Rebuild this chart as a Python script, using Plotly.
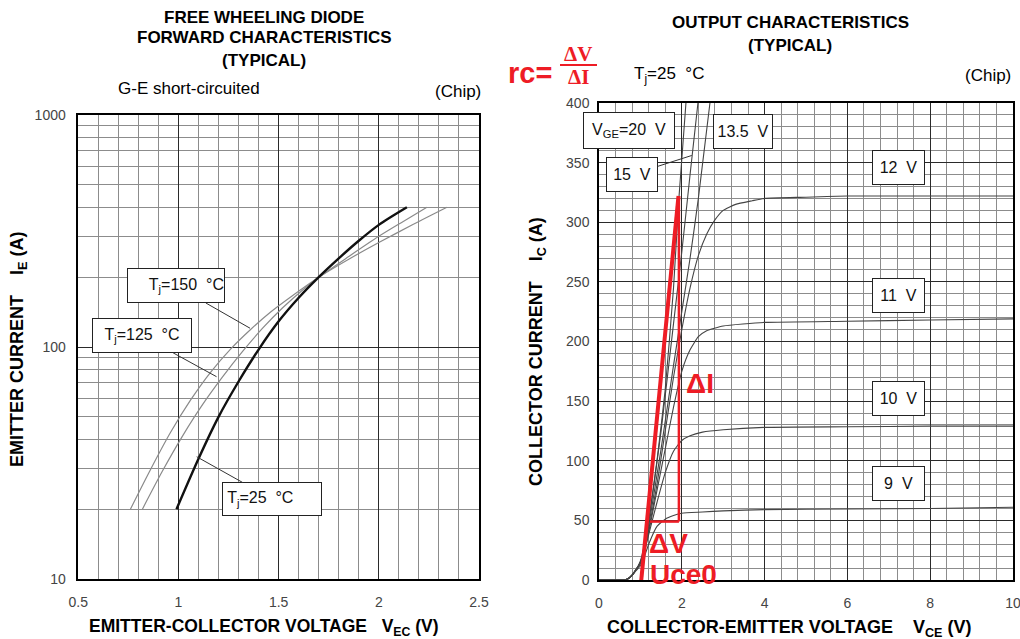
import plotly.graph_objects as go

W, H = 1020, 639

# ---------------- Left chart: FWD forward characteristics ----------------
vec_25 = [0.99, 1.10, 1.20, 1.30, 1.40, 1.50, 1.60, 1.70, 1.80, 1.90, 2.00, 2.14]
ie_25 = [20, 33, 50, 71, 97.5, 129, 163, 200, 241, 287, 336, 400]
vec_125 = [0.82, 0.92, 1.02, 1.12, 1.22, 1.32, 1.42, 1.52, 1.62, 1.70, 1.85, 2.00, 2.12, 2.24]
ie_125 = [20, 29.2, 41.3, 56.4, 74.3, 95.7, 120.5, 147.6, 176.2, 199.6, 245.5, 300, 347, 400]
vec_150 = [0.76, 0.86, 0.96, 1.06, 1.16, 1.26, 1.36, 1.46, 1.56, 1.70, 1.85, 2.00, 2.17, 2.34]
ie_150 = [20, 29.6, 42.8, 59, 77.8, 98, 119, 141.6, 164.4, 200, 239, 282, 337, 400]

left_xticks = [0.5, 1, 1.5, 2, 2.5]
left_xticklabels = ["0.5", "1", "1.5", "2", "2.5"]
left_yticks = [10, 100, 1000]
left_yticklabels = ["10", "100", "1000"]
left_yminor = [20, 30, 40, 50, 60, 70, 80, 90, 200, 300, 400, 500, 600, 700, 800, 900]

# ---------------- Right chart: output characteristics ----------------
vce_20 = [0, 0.6, 0.7, 0.8, 0.9, 1.0, 1.1, 1.2, 1.4, 1.6, 1.8, 1.93, 2.10]
ic_20 = [0, 0, 1, 4, 9, 16, 30, 50, 100, 160, 245, 320, 400]
vce_15 = [0, 0.6, 0.7, 0.8, 0.9, 1.0, 1.1, 1.2, 1.5, 1.8, 2.0, 2.2, 2.39]
ic_15 = [0, 0, 1, 4, 9, 15, 28, 48, 125, 215, 275, 340, 400]
vce_135 = [0, 0.6, 0.7, 0.8, 0.9, 1.0, 1.1, 1.2, 1.5, 1.8, 2.0, 2.2, 2.4, 2.68]
ic_135 = [0, 0, 1, 4, 9, 15, 27, 45, 110, 180, 225, 270, 320, 400]
vce_12 = [0, 0.6, 0.7, 0.8, 0.9, 1.0, 1.1, 1.2, 1.4, 1.6, 1.8, 2.0, 2.2, 2.4, 2.6, 2.8, 3.0, 3.3, 3.7, 4, 5, 6, 8, 10]
ic_12 = [0, 0, 1, 4, 9, 14, 26, 42, 80, 125, 170, 210, 245, 272, 290, 302, 310, 315, 318, 320, 321, 322, 322, 322]
vce_11 = [0, 0.6, 0.7, 0.8, 0.9, 1.0, 1.1, 1.2, 1.4, 1.6, 1.8, 2.0, 2.2, 2.4, 2.6, 3.0, 4, 6, 8, 10]
ic_11 = [0, 0, 1, 4, 9, 14, 25, 40, 75, 110, 145, 175, 193, 204, 209, 213, 216, 217, 218, 219]
vce_10 = [0, 0.6, 0.7, 0.8, 0.9, 1.0, 1.1, 1.2, 1.4, 1.6, 1.8, 2.0, 2.2, 2.5, 3, 4, 6, 8, 10]
ic_10 = [0, 0, 1, 4, 9, 14, 24, 38, 65, 90, 108, 117, 121, 124, 126, 128, 128.5, 129, 129]
vce_9 = [0, 0.6, 0.7, 0.8, 0.9, 1.0, 1.1, 1.2, 1.4, 1.6, 1.8, 2.0, 2.5, 3, 4, 6, 8, 10]
ic_9 = [0, 0, 1, 4, 8, 12, 20, 30, 45, 51, 54, 56, 57, 58, 59, 59.5, 60, 61]

right_xticks = [0, 2, 4, 6, 8, 10]
right_yticks = [0, 50, 100, 150, 200, 250, 300, 350, 400]

# red annotation construction (rc = dV/dI)
rc_tangent_v = [1.01, 1.92]
rc_tangent_i = [-4, 322]
delta_i_v = [1.93, 1.93]
delta_i_i = [49, 322]
delta_v_v = [1.23, 1.93]
delta_v_i = [49, 49]

RED = "#ee1c25"
FONT = "Liberation Sans, Arial, sans-serif"
SERIF = "Liberation Serif, Times New Roman, serif"


def px(x):
    return x / W


def py(y):
    return 1 - y / H


fig = go.Figure()

# left traces
fig.add_trace(go.Scatter(x=vec_150, y=ie_150, mode="lines", xaxis="x", yaxis="y",
                         line=dict(color="#8a8a8a", width=1.2, shape="spline", smoothing=0.8),
                         showlegend=False))
fig.add_trace(go.Scatter(x=vec_125, y=ie_125, mode="lines", xaxis="x", yaxis="y",
                         line=dict(color="#8a8a8a", width=1.2, shape="spline", smoothing=0.8),
                         showlegend=False))
fig.add_trace(go.Scatter(x=vec_25, y=ie_25, mode="lines", xaxis="x", yaxis="y",
                         line=dict(color="#111111", width=2.4, shape="spline", smoothing=0.8),
                         showlegend=False))

# right traces
for vx, iy in [(vce_9, ic_9), (vce_10, ic_10), (vce_11, ic_11), (vce_12, ic_12),
               (vce_135, ic_135), (vce_15, ic_15), (vce_20, ic_20)]:
    fig.add_trace(go.Scatter(x=vx, y=iy, mode="lines", xaxis="x2", yaxis="y2",
                             line=dict(color="#444444", width=1.1, shape="spline", smoothing=0.5),
                             showlegend=False))

fig.add_trace(go.Scatter(x=rc_tangent_v, y=rc_tangent_i, mode="lines", xaxis="x2", yaxis="y2",
                         line=dict(color=RED, width=4), showlegend=False))
fig.add_trace(go.Scatter(x=delta_i_v, y=delta_i_i, mode="lines", xaxis="x2", yaxis="y2",
                         line=dict(color=RED, width=2.5), showlegend=False))
fig.add_trace(go.Scatter(x=delta_v_v, y=delta_v_i, mode="lines", xaxis="x2", yaxis="y2",
                         line=dict(color=RED, width=2.5), showlegend=False))

minor_grid = "#8c8c8c"
major_grid = "#2a2a2a"
TICKFONT = dict(size=14, color="#444", family=FONT)

fig.update_layout(
    width=W, height=H, autosize=False,
    margin=dict(l=0, r=0, t=0, b=0, pad=0),
    paper_bgcolor="white", plot_bgcolor="white",
    font=dict(family=FONT, color="#000"),
    xaxis=dict(domain=[px(78.3), px(479)], range=[0.5, 2.5], automargin=False,
               tickvals=left_xticks, ticktext=left_xticklabels, ticklabeloverflow="allow",
               showgrid=True, gridcolor=major_grid, gridwidth=1,
               minor=dict(dtick=0.1, tick0=0.5, showgrid=True, gridcolor=minor_grid, gridwidth=1),
               showline=True, linecolor="#000", linewidth=1.5, mirror=True,
               ticks="outside", ticklen=9, tickcolor="rgba(0,0,0,0)",
               tickfont=TICKFONT, zeroline=False, fixedrange=True),
    yaxis=dict(domain=[py(579), py(115)], type="log", range=[1, 3], automargin=False,
               tickvals=left_yticks, ticktext=left_yticklabels, ticklabeloverflow="allow",
               showgrid=True, gridcolor=major_grid, gridwidth=1,
               minor=dict(tickvals=left_yminor, showgrid=True, gridcolor=minor_grid, gridwidth=1),
               showline=True, linecolor="#000", linewidth=1.5, mirror=True,
               ticks="outside", ticklen=8, tickcolor="rgba(0,0,0,0)",
               tickfont=TICKFONT, zeroline=False, fixedrange=True),
    xaxis2=dict(domain=[px(599), px(1013)], range=[0, 10], anchor="y2", automargin=False,
                tickvals=right_xticks, ticklabeloverflow="allow",
                showgrid=True, gridcolor=major_grid, gridwidth=1,
                minor=dict(dtick=0.4, tick0=0, showgrid=True, gridcolor=minor_grid, gridwidth=1),
                showline=True, linecolor="#000", linewidth=1.5, mirror=True,
                ticks="outside", ticklen=9, tickcolor="rgba(0,0,0,0)",
                tickfont=TICKFONT, zeroline=False, fixedrange=True),
    yaxis2=dict(domain=[py(580), py(103)], range=[0, 400], anchor="x2", automargin=False,
                tickvals=right_yticks, ticklabeloverflow="allow",
                showgrid=True, gridcolor=major_grid, gridwidth=1,
                minor=dict(dtick=10, tick0=0, showgrid=True, gridcolor=minor_grid, gridwidth=1),
                showline=True, linecolor="#000", linewidth=1.5, mirror=True,
                ticks="outside", ticklen=5, tickcolor="rgba(0,0,0,0)",
                tickfont=TICKFONT, zeroline=False, fixedrange=True),
)

ann = []


def ptext(text, x, y, size=15, bold=False, xanchor="center", color="#000", family=FONT, angle=0):
    if bold:
        text = "<b>" + text + "</b>"
    ann.append(dict(text=text, x=px(x), y=py(y), xref="paper", yref="paper",
                    xanchor=xanchor, yanchor="middle", showarrow=False, textangle=angle,
                    font=dict(size=size, color=color, family=family)))


# titles
ptext("FREE WHEELING DIODE", 264, 17, 17, True)
ptext("FORWARD CHARACTERISTICS", 264, 38, 17, True)
ptext("(TYPICAL)", 264, 60, 17, True)
ptext("G-E short-circuited", 116, 88, 17, xanchor="left")
ptext("(Chip)", 483, 91, 17, xanchor="right")
ptext("OUTPUT CHARACTERISTICS", 790, 22, 17, True)
ptext("(TYPICAL)", 790, 45, 17, True)
ptext("T<sub>j</sub>=25  °C", 632, 75, 17, xanchor="left")
ptext("(Chip)", 1013, 76, 17, xanchor="right")

# axis titles
ptext("EMITTER-COLLECTOR VOLTAGE   V<sub>EC</sub> (V)", 264, 627, 17.5, True)
ptext("COLLECTOR-EMITTER VOLTAGE    V<sub>CE</sub> (V)", 789, 628, 18, True)
ptext("EMITTER CURRENT    I<sub>E</sub> (A)", 18, 350, 18, True, angle=-90)
ptext("COLLECTOR CURRENT    I<sub>C</sub> (A)", 537, 352, 18, True, angle=-90)

# red formula
ptext("rc=", 530, 73, 29, True, color=RED)
ptext("ΔV", 578, 54, 21, True, color=RED, family=SERIF)
ptext("ΔI", 578, 77, 21, True, color=RED, family=SERIF)


def box(text, xref, yref, bx, by, w, h, tip=None, align="center", size=16):
    d = dict(text=text, xref=xref, yref=yref, width=w, height=h, align=align,
             bordercolor="#222", borderwidth=1, borderpad=0, bgcolor="white",
             font=dict(size=size, color="#111", family=FONT))
    if tip is None:
        d.update(x=bx, y=by, showarrow=False, xanchor="center", yanchor="middle")
    else:
        d.update(x=tip[0], y=tip[1], ax=bx, ay=by, axref=xref, ayref=yref,
                 showarrow=True, arrowhead=0, arrowwidth=1, arrowcolor="#333",
                 standoff=0, startstandoff=0)
    ann.append(d)


# left labels (log axis -> log10 coords)
box("T<sub>j</sub>=150  °C", "x", "y", 0.988, 2.263, 96, 33, tip=(1.357, 2.081), align="right")
box("T<sub>j</sub>=125  °C", "x", "y", 0.819, 2.048, 98, 33, tip=(1.19, 1.872))
box(" T<sub>j</sub>=25  °C", "x", "y", 1.467, 1.345, 98, 32, tip=(1.091, 1.527), align="left")

# right labels
box("V<sub>GE</sub>=20  V", "x2", "y2", 0.725, 377, 90, 35)
box("13.5  V", "x2", "y2", 3.49, 376, 58, 33)
box("15  V", "x2", "y2", 0.80, 340, 50, 33, tip=(2.24, 356))
box("12  V", "x2", "y2", 7.24, 346, 51, 33)
box("11  V", "x2", "y2", 7.24, 238.6, 51, 33)
box("10  V", "x2", "y2", 7.24, 151.8, 51, 33)
box("9  V", "x2", "y2", 7.24, 81, 51, 33)

# red labels in the output chart
for t, vx, iy in [("ΔI", 2.44, 165), ("ΔV", 1.67, 31), ("Uce0", 2.05, 5)]:
    ann.append(dict(text="<b>" + t + "</b>", x=vx, y=iy, xref="x2", yref="y2",
                    showarrow=False, xanchor="center", yanchor="middle",
                    font=dict(size=28, color=RED, family=FONT)))

fig.update_layout(annotations=ann)

fig.add_shape(type="line", xref="paper", yref="paper", x0=px(560), x1=px(597),
              y0=py(65), y1=py(65), line=dict(color=RED, width=2))

fig.write_html("out.html")
